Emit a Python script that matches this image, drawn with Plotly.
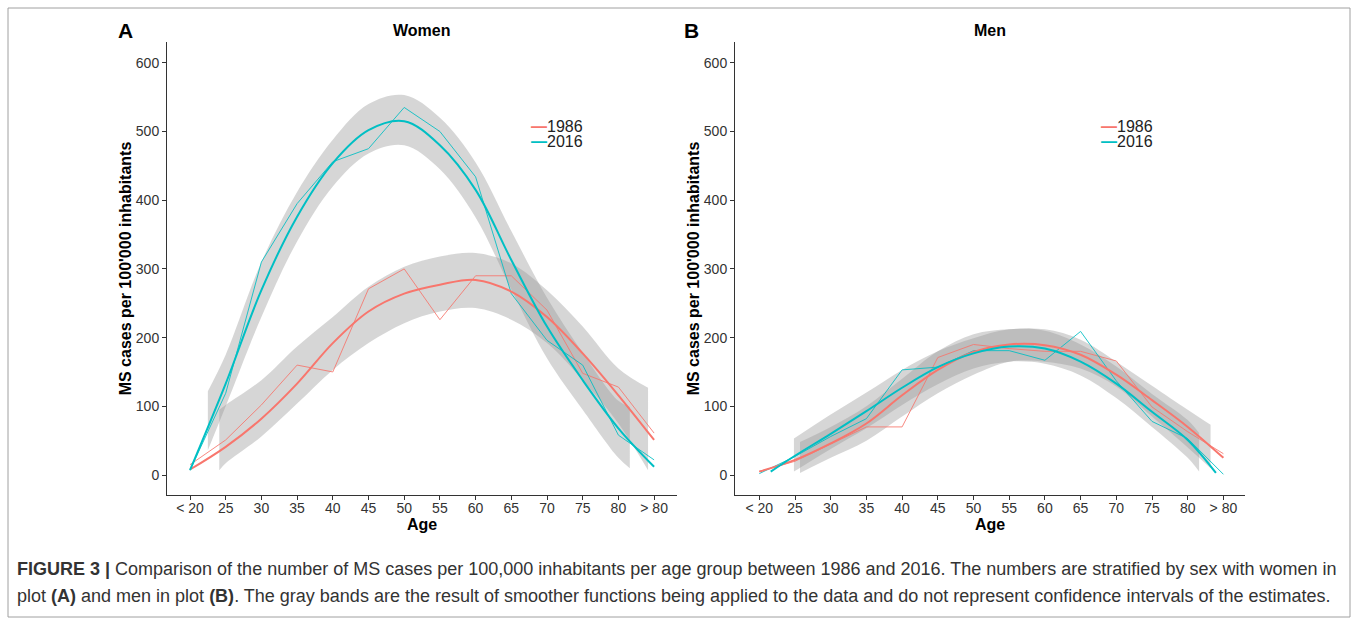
import plotly.graph_objects as go

# ---------------- data ----------------
age_labels = ["< 20", "25", "30", "35", "40", "45", "50", "55", "60", "65", "70", "75", "80", "> 80"]
age_pos = list(range(len(age_labels)))
y_ticks = [0, 100, 200, 300, 400, 500, 600]
series_names = ["1986", "2016"]

# observed values per age group
women_1986 = [15, 51, 102, 160, 150, 271, 300, 226, 290, 290, 240, 148, 128, 61]
women_2016 = [7, 119, 310, 395, 456, 475, 535, 500, 434, 264, 196, 160, 58, 22]
men_1986 = [5, 20, 45, 70, 70, 171, 190, 184, 180, 180, 166, 99, 63, 31]
men_2016 = [2, 27, 56, 82, 153, 157, 181, 181, 167, 209, 137, 78, 53, 1]

# smoothed curves
women_1986_smooth_x = age_pos
women_1986_smooth = [8, 41, 82, 133, 192, 238, 264, 277, 284, 267, 230, 177, 116, 51]
women_2016_smooth_x = age_pos
women_2016_smooth = [7, 133, 269, 376, 454, 502, 515, 480, 415, 313, 216, 138, 68, 12]
men_1986_smooth_x = age_pos
men_1986_smooth = [5, 22, 46, 75, 116, 153, 179, 190, 189, 175, 146, 109, 70, 25]
men_2016_smooth_x = [0.32, 1, 2, 3, 4, 5, 6, 7, 8, 9, 10, 11, 12, 12.79]
men_2016_smooth = [5, 28, 60, 93, 127, 157, 177, 187, 184, 165, 133, 92, 51, 3]

# gray smoother bands
women_2016_band_x = [0.5, 1, 2, 3, 4, 5, 6, 7, 8, 9, 10, 11, 12, 12.32]
women_2016_low = [36, 100, 230, 340, 420, 468, 480, 445, 375, 270, 170, 95, 25, 10]
women_2016_high = [122, 175, 310, 412, 488, 540, 553, 520, 455, 355, 258, 178, 108, 99]
women_1986_band_x = [0.82, 1, 2, 3, 4, 5, 6, 7, 8, 9, 10, 11, 12, 12.83]
women_1986_low = [7, 17, 56, 104, 153, 192, 221, 238, 243, 226, 192, 138, 75, 7]
women_1986_high = [95, 102, 138, 187, 230, 274, 303, 318, 323, 308, 269, 216, 155, 127]

men_2016_band_x = [0.97, 2, 3, 4, 5, 6, 7, 8, 9, 10, 11, 12, 12.32]
men_2016_low = [5, 38, 68, 102, 132, 155, 165, 162, 145, 112, 70, 25, 5]
men_2016_high = [53, 88, 120, 153, 180, 199, 212, 210, 190, 158, 118, 80, 61]
men_1986_band_x = [1.14, 2, 3, 4, 5, 6, 7, 8, 9, 10, 11, 12, 12.64]
men_1986_low = [3, 25, 50, 85, 119, 146, 165, 165, 155, 129, 85, 40, 10]
men_1986_high = [48, 70, 100, 140, 180, 205, 212, 212, 197, 165, 130, 95, 73]

# ---------------- styling ----------------
RED = "#F8766D"
TEAL = "#00BFC4"
BAND = "rgba(153,153,153,0.4)"
FONT = "Liberation Sans, Arial, sans-serif"
W, H = 1357, 625

fig = go.Figure()


def add_band(x, low, high, xa, ya):
    fig.add_trace(go.Scatter(x=x, y=low, mode="lines", line=dict(width=0, shape="spline"),
                             showlegend=False, hoverinfo="skip", xaxis=xa, yaxis=ya))
    fig.add_trace(go.Scatter(x=x, y=high, mode="lines", line=dict(width=0, shape="spline"),
                             fill="tonexty", fillcolor=BAND, showlegend=False,
                             hoverinfo="skip", xaxis=xa, yaxis=ya))


add_band(women_2016_band_x, women_2016_low, women_2016_high, "x", "y")
add_band(women_1986_band_x, women_1986_low, women_1986_high, "x", "y")
add_band(men_2016_band_x, men_2016_low, men_2016_high, "x2", "y2")
add_band(men_1986_band_x, men_1986_low, men_1986_high, "x2", "y2")

# thin observed lines
for vals, col, name, xa, ya in [(women_1986, RED, "1986", "x", "y"), (women_2016, TEAL, "2016", "x", "y"),
                                (men_1986, RED, "1986", "x2", "y2"), (men_2016, TEAL, "2016", "x2", "y2")]:
    fig.add_trace(go.Scatter(x=age_pos, y=vals, mode="lines", name=name,
                             line=dict(color=col, width=1),
                             opacity=0.85, showlegend=False, xaxis=xa, yaxis=ya))

# smoothed thick lines
for xs, ys, col, name, xa, ya in [
        (women_1986_smooth_x, women_1986_smooth, RED, "1986", "x", "y"),
        (women_2016_smooth_x, women_2016_smooth, TEAL, "2016", "x", "y"),
        (men_1986_smooth_x, men_1986_smooth, RED, "1986", "x2", "y2"),
        (men_2016_smooth_x, men_2016_smooth, TEAL, "2016", "x2", "y2")]:
    fig.add_trace(go.Scatter(x=xs, y=ys, mode="lines", name=name,
                             line=dict(color=col, width=2, shape="spline"),
                             showlegend=False, xaxis=xa, yaxis=ya))

# ---------------- axes ----------------
y_dom = [1 - 495 / H, 1 - 42 / H]
y_rng = [(475 - 495) / 0.687, (475 - 42) / 0.687]
axis_common = dict(showline=True, linecolor="#333333", linewidth=1, ticks="outside", ticklen=4,
                   tickcolor="#333333", tickfont=dict(family=FONT, size=14, color="#333333"),
                   showgrid=False, zeroline=False)

xa_common = dict(axis_common, tickmode="array", tickvals=age_pos, ticktext=age_labels,
                 ticklabelstandoff=-4,
                 title=dict(text="<b>Age</b>", font=dict(family=FONT, size=16, color="#000"),
                            standoff=0))
ya_common = dict(axis_common, tickmode="array", tickvals=y_ticks, range=y_rng,
                 title=dict(text="<b>MS cases per 100'000 inhabitants</b>",
                            font=dict(family=FONT, size=16, color="#000"), standoff=0))

fig.update_layout(
    xaxis=dict(xa_common, domain=[167 / W, 677 / W], range=[(167 - 190) / 35.7, (677 - 190) / 35.7],
               anchor="y"),
    yaxis=dict(ya_common, domain=y_dom, anchor="x"),
    xaxis2=dict(xa_common, domain=[735 / W, 1245 / W],
                range=[(735 - 759.3) / 35.7, (1245 - 759.3) / 35.7], anchor="y2"),
    yaxis2=dict(ya_common, domain=y_dom, anchor="x2"),
)

# ---------------- annotations ----------------
def note(text, xp, yp, size, color="#000", xanchor="center"):
    return dict(text=text, x=xp / W, y=1 - yp / H, xref="paper", yref="paper",
                xanchor=xanchor, yanchor="middle", showarrow=False,
                font=dict(family=FONT, size=size, color=color))


cap1 = ("<b>FIGURE 3 |</b> Comparison of the number of MS cases per 100,000 inhabitants per age group "
        "between 1986 and 2016. The numbers are stratified by sex with women in")
cap2 = ("plot <b>(A)</b> and men in plot <b>(B)</b>. The gray bands are the result of smoother functions "
        "being applied to the data and do not represent confidence intervals of the estimates.")
ann = [
    note("<b>Women</b>", 421, 31, 16),
    note("<b>Men</b>", 990, 31, 16),
    note("<b>A</b>", 125, 30, 21),
    note("<b>B</b>", 691, 30, 21),
    note(cap1, 15, 569, 18, "#333333", "left"),
    note(cap2, 15, 596, 18, "#333333", "left"),
]

# legends (colored key line + label), one per panel
for lx in (529, 1099):
    for k, (name, col) in enumerate(zip(series_names, [RED, TEAL])):
        ann.append(note(f"<span style='color:{col}'><b>—</b></span>{name}", lx, 126 + 15 * k, 16,
                        "#222222", "left"))

fig.update_layout(
    annotations=ann,
    shapes=[dict(type="rect", xref="paper", yref="paper", x0=8 / W, x1=1350 / W, y0=1 - 617 / H,
                 y1=1 - 8 / H, line=dict(color="#a0a0a0", width=1))],
    width=W, height=H, margin=dict(l=0, r=0, t=0, b=0, pad=0),
    paper_bgcolor="white", plot_bgcolor="white",
    font=dict(family=FONT),
    showlegend=False,
)

fig.write_html("out.html", post_script="document.body.style.margin='0';",
               config={"displayModeBar": False})
